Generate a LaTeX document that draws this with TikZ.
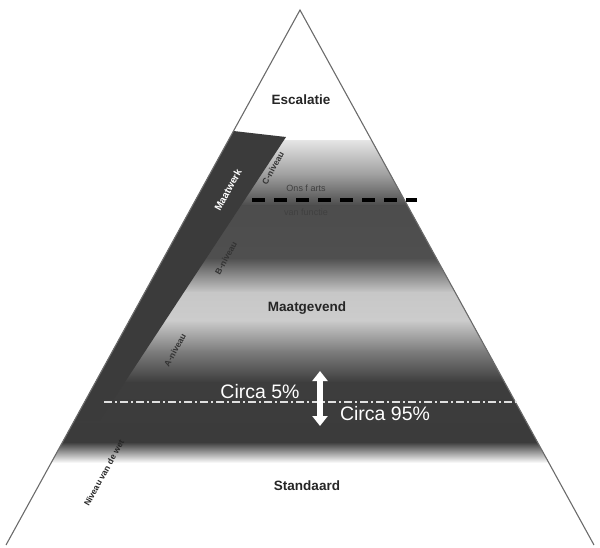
\documentclass[tikz,border=0pt]{standalone}
\usepackage{fontspec}
\setmainfont{Liberation Sans}
\usetikzlibrary{arrows.meta}
\definecolor{edgec}{gray}{0.42}
\definecolor{barc}{gray}{0.23}
\definecolor{s0}{gray}{0.90}
\definecolor{s1}{gray}{0.62}
\definecolor{s2}{gray}{0.30}
\definecolor{s3}{gray}{0.31}
\definecolor{s4}{gray}{0.78}
\definecolor{s5}{gray}{0.80}
\definecolor{s6}{gray}{0.50}
\definecolor{s7}{gray}{0.24}
\definecolor{s8}{gray}{0.23}
\begin{document}
\begin{tikzpicture}[x=1pt,y=-1pt,
  lvl/.style={font=\bfseries\fontsize{13.5}{15}\selectfont, text=black!85, inner sep=0pt},
  tag/.style={font=\bfseries\fontsize{8.5}{9}\selectfont, rotate=61, inner sep=0pt},
  pct/.style={font=\fontsize{19.5}{21}\selectfont, text=white, inner sep=0pt},
  small/.style={font=\fontsize{9}{10}\selectfont, text=black!75, inner sep=0pt},
  band/.style={draw=none}
]
\useasboundingbox (0,0) rectangle (600,547);
\coordinate (apex) at (300,10);
\coordinate (bl) at (6,545);
\coordinate (br) at (594,545);
% shaded bands
\begin{scope}
  \clip (apex) -- (bl) -- (br) -- cycle;
  \fill[band, top color=s0, bottom color=s1] (0,140) rectangle (600,175.5);
  \fill[band, top color=s1, bottom color=s2] (0,175) rectangle (600,205.5);
  \fill[band, top color=s2, bottom color=s3] (0,205) rectangle (600,258.5);
  \fill[band, top color=s3, bottom color=s4] (0,258) rectangle (600,292.5);
  \fill[band, top color=s4, bottom color=s5] (0,292) rectangle (600,320.5);
  \fill[band, top color=s5, bottom color=s6] (0,320) rectangle (600,350.5);
  \fill[band, top color=s6, bottom color=s7] (0,350) rectangle (600,382.5);
  \fill[band, top color=s7, bottom color=s8] (0,382) rectangle (600,442.5);
  \fill[band, top color=s8, bottom color=white] (0,442) rectangle (600,463);
  % dark bar
  \fill[barc] (233.5,131) -- (286,137) -- (100,420) -- (70,420) -- cycle;
\end{scope}
% triangle outline
\draw[edgec, line width=1.1pt] (bl) -- (apex) -- (br);
% level labels
\node[lvl] (esc) at (301,100) {Escalatie};
\node[lvl] (maat) at (307,308) {Maatgevend};
\node[lvl] (std) at (307,486) {Standaard};
% bar labels
\node[tag, text=white, font=\bfseries\fontsize{10}{11}\selectfont] (mw) at (228,190) {Maatwerk};
\node[tag, text=black!80] (cn) at (273,168) {C-niveau};
\node[tag, text=black!80] (bn) at (226,258) {B-niveau};
\node[tag, text=black!80] (an) at (175,350) {A-niveau};
\node[tag, text=black!85] (wet) at (104,473) {Niveau van de wet};
% black dashed line with labels
\coordinate (d1) at (252,200);
\coordinate (d2) at (417,200);
\draw[black, line width=4pt, dash pattern=on 13pt off 9pt] (d1) -- (d2);
\node[small] (ons) at (306,188) {Ons f arts};
\node[small] (van) at (306,212) {van functie};
% dash-dot line
\coordinate (l1) at (104,402);
\coordinate (l2) at (519,402);
\draw[white!88!black, line width=1.3pt, dash pattern=on 8pt off 3pt on 2pt off 3pt] (l1) -- (l2);
% percentages
\node[pct] (c5) at (260,392) {Circa 5\%};
\node[pct] (c95) at (385,414) {Circa 95\%};
\coordinate (atop) at (320,371);
\coordinate (abot) at (320,426);
\draw[white, line width=6pt, {Triangle[width=15pt,length=10pt]}-{Triangle[width=15pt,length=10pt]}] (atop) -- (abot);
\end{tikzpicture}
\end{document}
